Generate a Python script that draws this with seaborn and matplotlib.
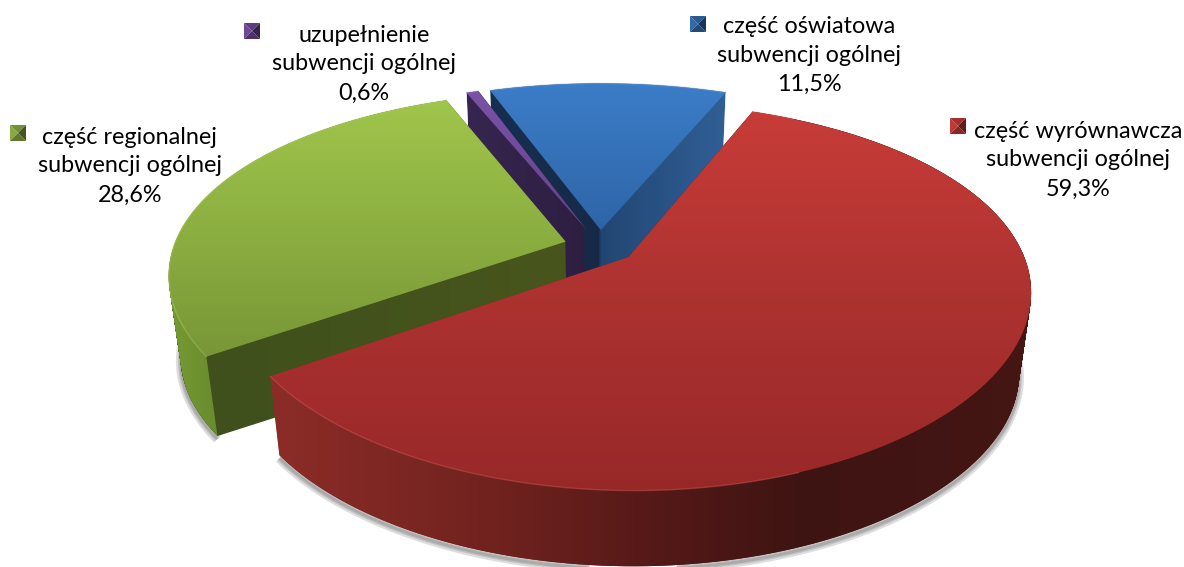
import numpy as np
import seaborn as sns
from matplotlib import pyplot as plt
from matplotlib.path import Path

sns.set_theme(style='white')
plt.rcParams['font.family'] = ['Lato', 'DejaVu Sans']

# chart data, clockwise from the red slice
names = ['część wyrównawcza\nsubwencji ogólnej', 'część regionalnej\nsubwencji ogólnej',
         'uzupełnienie\nsubwencji ogólnej', 'część oświatowa\nsubwencji ogólnej']
values = [59.3, 28.6, 0.6, 11.5]

# top face colours (y position, rgb)
top_stops = [
    [(110, (200, 60, 56)), (300, (172, 50, 48)), (490, (152, 40, 40))],
    [(100, (160, 197, 75)), (230, (140, 175, 65)), (355, (120, 150, 55))],
    [(90, (122, 82, 168)), (235, (100, 65, 140))],
    [(82, (60, 125, 200)), (232, (46, 100, 166))],
]
# outer rim colours (x position, rgb), the two back slices hide theirs
rim_stops = [
    [(272, (140, 44, 40)), (500, (112, 34, 30)), (650, (85, 25, 24)), (800, (62, 20, 18)), (1030, (68, 22, 20))],
    [(165, (120, 155, 52)), (220, (104, 138, 46))],
    None,
    None,
]
# cut faces colours (x position, rgb)
cut_stops = [
    [(272, (140, 44, 40)), (640, (92, 28, 25))],
    [(210, (63, 80, 28)), (570, (72, 86, 28))],
    [(460, (55, 38, 80)), (590, (45, 30, 65))],
    [(480, (22, 48, 80)), (598, (22, 42, 72)), (601, (34, 70, 115)), (725, (48, 95, 150))],
]
key_colors = [(192, 57, 53), (137, 170, 66), (110, 72, 150), (50, 105, 170)]
key_pos = [(958, 126), (18, 133), (252, 31), (698, 24)]
label_pos = [(1078, 160), (130, 166), (364, 64), (809, 55)]
edge_colors = ['#d8605a', '#b9d46f', '#9a78c0', '#6f9fd8']
edge_xmax = [800, 1184, 1184, 1184]

W, H = 1184, 567
CX, CY = 600, 246.5
RX, RY = 392, 182
KX, KY = 0.17, 0.20
DEPTH = 82.5
SHRINK = 0.028


def project(u, v, t=0.0):
    shrink = 1 - SHRINK * t
    return CX + RX * u / (1 + KX * v) * shrink, CY - RY * v / (1 + KY * v) * shrink + DEPTH * t


def ramp(stops, n):
    pos = [p for p, _ in stops]
    return np.column_stack([np.interp(np.arange(n), pos, [c[i] / 255 for _, c in stops]) for i in range(3)])


def paint(colors, path, z):
    im = ax.imshow(colors, extent=(0, W, H, 0), aspect='auto', zorder=z, interpolation='nearest')
    im.set_clip_path(path, ax.transData)


def quad_strip(x0, y0, x1, y1):
    # one quad per arc step, all wound the same way so that the fold at the silhouette stays filled
    quads = []
    for j in range(len(x0) - 1):
        q = np.array([[x0[j], y0[j]], [x0[j + 1], y0[j + 1]], [x1[j + 1], y1[j + 1]], [x1[j], y1[j]], [x0[j], y0[j]]])
        area = np.sum(q[:-1, 0] * q[1:, 1] - q[1:, 0] * q[:-1, 1])
        quads.append(Path(q if area > 0 else q[::-1], closed=True))
    return Path.make_compound_path(*quads)


fig = plt.figure(figsize=(W / 100, H / 100), dpi=100)
ax = fig.add_axes([0, 0, 1, 1])

palette = sns.color_palette([tuple(k / 255 for k in c) for c in key_colors])
wedges, _ = ax.pie(values, startangle=68, counterclock=False, explode=[0.092] * 4, colors=palette)
outlines = []
for w in wedges:
    a = np.radians(np.linspace(w.theta1, w.theta2, 150))
    u = np.r_[w.center[0], w.center[0] + w.r * np.cos(a)]
    v = np.r_[w.center[1], w.center[1] + w.r * np.sin(a)]
    outlines.append((u, v))
    w.set_visible(False)

ax.set_aspect('auto')

# soft shadow under the two big slices
for i in [0, 1]:
    u, v = outlines[i]
    x, y = project(u[1:], v[1:], 1)
    for lw in (2, 4, 7):
        ax.plot(x, y + 3, color='#444444', lw=lw, alpha=0.18, zorder=1, solid_capstyle='butt')

z = 2
for i in [3, 2, 1, 0]:
    u, v = outlines[i]
    # cut faces: every layer between the top face and the bottom face
    layers = []
    for t in np.linspace(1, 0, 90):
        x, y = project(u, v, t)
        layers.append(Path(np.column_stack([np.r_[x, x[0]], np.r_[y, y[0]]]), closed=True))
    paint(ramp(cut_stops[i], W)[None, :, :], Path.make_compound_path(*layers), z)
    z += 1
    # outer rim
    if rim_stops[i] is not None:
        x0, y0 = project(u[1:], v[1:], 0)
        x1, y1 = project(u[1:], v[1:], 1)
        paint(ramp(rim_stops[i], W)[None, :, :], quad_strip(x0, y0, x1, y1), z)
        z += 1
    x, y = project(u, v)
    top = Path(np.column_stack([np.r_[x, x[0]], np.r_[y, y[0]]]), closed=True)
    paint(ramp(top_stops[i], H)[:, None, :], top, z)
    z += 1
    # lighter bevel, only on the lit part of the edge
    edge_x = np.where(x[1:] < edge_xmax[i], x[1:], np.nan)
    ax.plot(edge_x, y[1:], color=edge_colors[i], lw=1, alpha=0.4, zorder=z)
    z += 1

# labels with the little bevelled keys
for name, val, kc, kp, lp in zip(names, values, key_colors, key_pos, label_pos):
    txt = name + '\n' + f'{val:.1f}%'.replace('.', ',')
    ax.text(lp[0], lp[1], txt, ha='center', va='center', ma='center', fontsize=16.8, linespacing=1.47,
            color='black', zorder=50)
    kx, ky = kp
    c = np.array(kc) / 255
    d = 8
    ax.fill([kx - d, kx - d, kx], [ky - d, ky + d, ky], color=c, zorder=52, lw=0)
    ax.fill([kx - d, kx + d, kx], [ky - d, ky - d, ky], color=c * 0.85, zorder=52, lw=0)
    ax.fill([kx + d, kx + d, kx], [ky - d, ky + d, ky], color=c * 0.5, zorder=52, lw=0)
    ax.fill([kx - d, kx + d, kx], [ky + d, ky + d, ky], color=c * 0.7, zorder=52, lw=0)

ax.set_xlim(0, W)
ax.set_ylim(H, 0)
ax.axis('off')
plt.savefig('out.png', dpi=100)
plt.close()
